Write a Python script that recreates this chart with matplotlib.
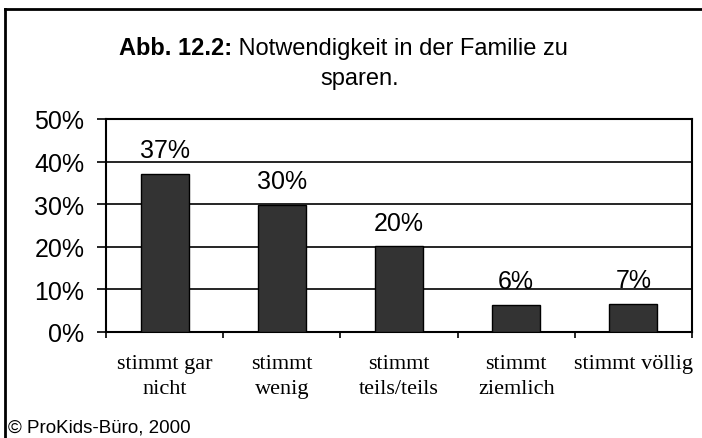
import matplotlib
matplotlib.use("Agg")
import matplotlib.pyplot as plt
from matplotlib.lines import Line2D
import numpy as np

categories = ["stimmt gar\nnicht", "stimmt\nwenig", "stimmt\nteils/teils", "stimmt\nziemlich", "stimmt völlig"]
values = [37.2, 29.8, 20.1, 6.4, 6.6]
value_labels = ["37%", "30%", "20%", "6%", "7%"]
yticks = [0, 10, 20, 30, 40, 50]
ytick_labels = ["0%", "10%", "20%", "30%", "40%", "50%"]

W, H = 702, 439
fig = plt.figure(figsize=(W / 100, H / 100), dpi=100)
fig.patch.set_facecolor("white")

sans = "Liberation Sans"
serif = "Liberation Serif"

# plot area in pixels
L, R, T, B = 106, 692, 120, 333
ax = fig.add_axes([L / W, 1 - B / H, (R - L) / W, (B - T) / H])

x = np.arange(len(categories))
ax.bar(x, values, width=0.41, color="#333333", edgecolor="black", linewidth=1.0, zorder=3)

ax.set_xlim(-0.5, len(categories) - 0.5)
ax.set_ylim(0, 50)

ax.set_yticks(yticks)
ax.set_yticklabels(ytick_labels, fontfamily=sans, fontsize=18)
ax.yaxis.grid(True, color="black", linewidth=1.2, zorder=0)
ax.tick_params(axis="y", direction="out", length=6.5, width=1.2, pad=9)

ax.set_xticks(np.arange(-0.5, len(categories)))
ax.set_xticklabels([])
ax.tick_params(axis="x", which="major", direction="out", length=4, width=1.2)
ax.set_xticks(x, minor=True)
ax.set_xticklabels(categories, minor=True, fontfamily=serif, fontsize=16, linespacing=1.4)
ax.tick_params(axis="x", which="minor", length=0, pad=16)

for s in ax.spines.values():
    s.set_color("black")
    s.set_linewidth(1.5)

for xi, v, lab in zip(x, values, value_labels):
    ax.annotate(lab, (xi, v), xytext=(0, 12), textcoords="offset points",
                ha="center", va="baseline", fontfamily=sans, fontsize=18)

# title
t1a = fig.text(0, 0, "Abb. 12.2:", fontfamily=sans, fontweight="bold", fontsize=17)
t1b = fig.text(0, 0, " Notwendigkeit in der Familie zu", fontfamily=sans, fontsize=17)
fig.canvas.draw()
r = fig.canvas.get_renderer()
wa = t1a.get_window_extent(r).width
wb = t1b.get_window_extent(r).width
total = wa + wb
cx = 343
x0 = cx - total / 2
t1a.set_position((x0 / W, 1 - 55 / H))
t1a.set_va("baseline")
t1b.set_position(((x0 + wa) / W, 1 - 55 / H))
t1b.set_va("baseline")
fig.text(360 / W, 1 - 85 / H, "sparen.", fontfamily=sans, fontsize=17, ha="center", va="baseline")

# footer
fig.text(8 / W, 1 - 433 / H, "© ProKids-Büro, 2000", fontfamily=sans, fontsize=13.5, ha="left", va="baseline")

# outer border (top and left)
fig.add_artist(Line2D([5 / W, 1.0], [1 - 10 / H, 1 - 10 / H], color="black", linewidth=2, transform=fig.transFigure))
fig.add_artist(Line2D([5 / W, 5 / W], [1 - 10 / H, 0.0], color="black", linewidth=2, transform=fig.transFigure))

fig.savefig("out.png", dpi=100)
